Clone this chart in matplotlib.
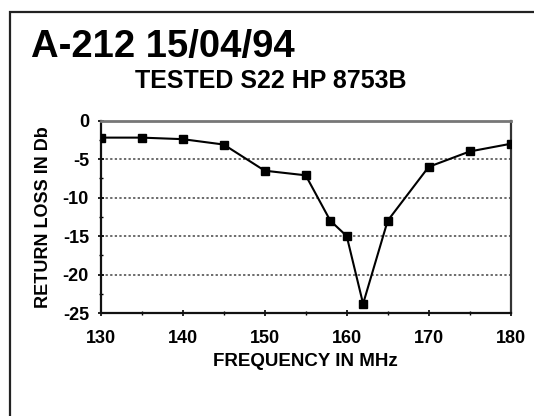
"""
Return loss plot, A-212, tested S22 on HP 8753B.
"""

import matplotlib
matplotlib.use("Agg")
import matplotlib.pyplot as plt
from matplotlib.patches import Rectangle
from matplotlib.ticker import MultipleLocator

FREQ_MHZ    = [130, 135, 140, 145, 150, 155, 158, 160, 162, 165, 170, 175, 180]
RETURN_LOSS = [-2.2, -2.2, -2.4, -3.1, -6.5, -7.1, -13.0, -15.0, -23.8, -13.0, -6.0, -4.0, -3.0]
X_TICKS     = [130, 140, 150, 160, 170, 180]
Y_TICKS     = [0, -5, -10, -15, -20, -25]

plt.rcParams["font.family"] = ["Liberation Sans", "DejaVu Sans"]
plt.rcParams["font.weight"] = "bold"
plt.rcParams["axes.unicode_minus"] = False

fig = plt.figure(figsize=(5.34, 4.16), dpi=100)
W, H = 534, 416

# outer frame of the scanned sheet (right/bottom run off the page)
fig.patches.append(Rectangle((9.5 / W, -0.2), 2, 1.2 - 12 / H, transform=fig.transFigure,
                             fill=False, edgecolor="#222222", linewidth=1.6))

fig.text(31 / W, 1 - 57 / H, "A-212 15/04/94", fontsize=27.5, fontweight="bold",
         va="baseline", ha="left")
fig.text(270.5 / W, 1 - 88 / H, "TESTED S22 HP 8753B", fontsize=18, fontweight="bold",
         va="baseline", ha="center")

ax = fig.add_axes([100.7 / W, 103 / H, 410 / W, 192.3 / H])
ax.plot(FREQ_MHZ, RETURN_LOSS, color="black", linewidth=1.5, marker="s",
        markersize=6, markerfacecolor="black", markeredgecolor="black", zorder=3)

ax.set_xlim(130, 180)
ax.set_ylim(-25, 0)
ax.set_xticks(X_TICKS)
ax.set_yticks(Y_TICKS)
ax.xaxis.set_minor_locator(MultipleLocator(5))
ax.yaxis.set_minor_locator(MultipleLocator(2.5))
ax.tick_params(which="major", direction="inout", length=5, width=1.2, labelsize=13)
ax.tick_params(axis="x", which="major", pad=10)
ax.tick_params(axis="y", which="major", pad=6)
ax.tick_params(which="minor", direction="inout", length=3, width=1)
for lab in ax.get_xticklabels() + ax.get_yticklabels():
    lab.set_fontweight("bold")

ax.grid(axis="y", linestyle=(0, (1.5, 1.5)), color="#444444", linewidth=1.1)
for s in ["left", "bottom"]:
    ax.spines[s].set_linewidth(1.6)
    ax.spines[s].set_color("#111111")
ax.spines["right"].set_linewidth(1.6)
ax.spines["right"].set_color("#333333")
ax.spines["top"].set_linewidth(2)
ax.spines["top"].set_color("#777777")

ax.set_xlabel("FREQUENCY IN MHz", fontsize=13.5, fontweight="bold")
ax.xaxis.set_label_coords(0.5, -(353 - 313) / 192.3)
ax.xaxis.label.set_va("top")
ax.set_ylabel("RETURN LOSS IN Db", fontsize=13, fontweight="bold")
ax.yaxis.set_label_coords(-(100.7 - 52) / 410, 0.5)

fig.savefig("out.png", dpi=100)
